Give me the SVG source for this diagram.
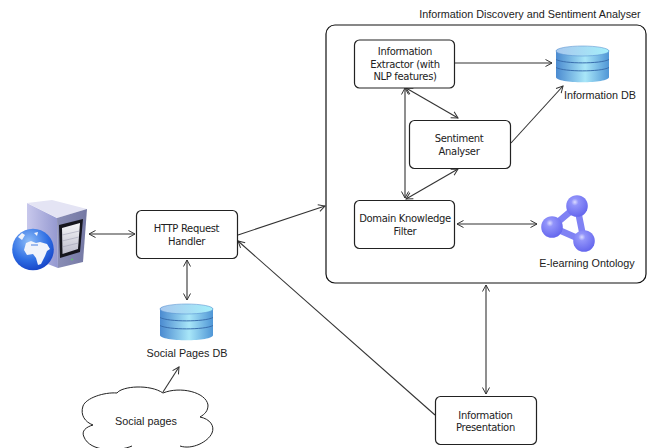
<svg xmlns="http://www.w3.org/2000/svg" width="649" height="448" viewBox="0 0 649 448">
<style>
.box{fill:#fff;stroke:#222;stroke-width:1.2}
.t{font-family:"DejaVu Sans",sans-serif;font-size:10px;letter-spacing:-.33px;fill:#222;text-anchor:middle}
.l{font-family:"Liberation Sans",Arial,sans-serif;font-size:10.8px;fill:#222;text-anchor:middle}
.c{fill:none;stroke:#333;stroke-width:1.1;marker-end:url(#a)}
.b{marker-start:url(#s)}
</style>
<defs>
<marker id="a" markerWidth="10" markerHeight="10" refX="7" refY="4" orient="auto" markerUnits="userSpaceOnUse"><path d="M0.5 0.5L7 4L0.5 7.500" fill="none" stroke="#333" stroke-width="1"/></marker>
<marker id="s" markerWidth="10" markerHeight="10" refX="1" refY="4" orient="auto" markerUnits="userSpaceOnUse"><path d="M7.500 0.500L1 4L7.500 7.500" fill="none" stroke="#333" stroke-width="1"/></marker>
<linearGradient id="dbh" x1="0" x2="1" y1="0" y2="0"><stop offset="0" stop-color="#4a8ad0"/><stop offset=".55" stop-color="#a8e6f8"/><stop offset="1" stop-color="#4f96d6"/></linearGradient>
<linearGradient id="top" x1="0" x2="1" y1="0" y2="0"><stop offset="0" stop-color="#a8c8ee"/><stop offset="1" stop-color="#a5effa"/></linearGradient>
<radialGradient id="ball" cx=".4" cy=".32" r=".75"><stop offset="0" stop-color="#dcdcff"/><stop offset=".22" stop-color="#9294fa"/><stop offset="1" stop-color="#5f61ec"/></radialGradient>
<radialGradient id="globe" cx=".4" cy=".3" r=".75"><stop offset="0" stop-color="#8dbcf8"/><stop offset=".6" stop-color="#2f6fe4"/><stop offset="1" stop-color="#1440c4"/></radialGradient>
<linearGradient id="srvl" x1="0" x2="1" y1="0" y2="0"><stop offset="0" stop-color="#c8c8ec"/><stop offset="1" stop-color="#9498d0"/></linearGradient>
<linearGradient id="srvf" x1="0" x2="1" y1="0" y2="0"><stop offset="0" stop-color="#8a8eb6"/><stop offset="1" stop-color="#7478a4"/></linearGradient>
<linearGradient id="scr" x1="0" x2="0" y1="0" y2="1"><stop offset="0" stop-color="#f6f6f8"/><stop offset="1" stop-color="#bcbccc"/></linearGradient>
<g id="dbicon">
<path d="M0 6C0 1 53 1 53 6V32C53 39 0 39 0 32Z" fill="url(#dbh)"/>
<path d="M0 14.500C8 19 45 19 53 14.500M0 22.500C8 27 45 27 53 22.500" fill="none" stroke="#3a6fae" stroke-width="1"/>
<ellipse cx="26.500" cy="6" rx="26.500" ry="5" fill="url(#top)" stroke="#5c96d2" stroke-width=".6"/>
</g>
</defs>
<rect width="649" height="448" fill="#fff"/>

<g id="connectors">
<path class="c b" d="M89 234H135"/>
<path class="c b" d="M187 260V300"/>
<path class="c" d="M163 392L179 367"/>
<path class="c" d="M238 235L325 206"/>
<path class="c" d="M435 415L238 241"/>
<path class="c b" d="M486 285V394"/>
<path class="c" d="M455 63H552"/>
<path class="c" d="M511 143L563 86"/>
<path class="c b" d="M406 88L458 118"/>
<path class="c b" d="M405 88V198"/>
<path class="c b" d="M406 199L458 169"/>
<path class="c b" d="M457 224H537"/>
</g>

<g id="discovery">
<rect x="326" y="25" width="320" height="258" rx="9" fill="none" stroke="#111" stroke-width="1.2"/>
<text class="l" x="530" y="17.500">Information Discovery and Sentiment Analyser</text>
</g>

<g id="extractor">
<rect class="box" x="354.500" y="40" width="100" height="48" rx="5"/>
<text class="t" x="405" y="55">Information</text>
<text class="t" x="405" y="67.500">Extractor (with</text>
<text class="t" x="405" y="80">NLP features)</text>
</g>
<g id="sentiment">
<rect class="box" x="409.500" y="120.500" width="101" height="48" rx="5"/>
<text class="t" x="459" y="142">Sentiment</text>
<text class="t" x="459" y="154.500">Analyser</text>
</g>
<g id="domain">
<rect class="box" x="354.500" y="200.500" width="100" height="48" rx="5"/>
<text class="t" x="405" y="222">Domain Knowledge</text>
<text class="t" x="405" y="234.500">Filter</text>
</g>
<g id="http">
<rect class="box" x="136.500" y="210.500" width="101" height="48" rx="5"/>
<text class="t" x="186.500" y="232">HTTP Request</text>
<text class="t" x="186.500" y="244.500">Handler</text>
</g>
<g id="presentation">
<rect class="box" x="435.500" y="396.500" width="101" height="48" rx="5"/>
<text class="t" x="485.500" y="418.500">Information</text>
<text class="t" x="485.500" y="431">Presentation</text>
</g>

<g id="infodb">
<use href="#dbicon" x="556" y="45"/>
<text class="l" x="600" y="99">Information DB</text>
</g>
<g id="socialdb">
<use href="#dbicon" x="160" y="303"/>
<text class="l" x="187" y="357">Social Pages DB</text>
</g>

<g id="ontology">
<path d="M552 227L577 206L584 241Z" fill="none" stroke="#8082f4" stroke-width="6.500" stroke-linejoin="round"/>
<circle cx="577" cy="206" r="10.800" fill="url(#ball)"/>
<circle cx="552" cy="227" r="10.800" fill="url(#ball)"/>
<circle cx="584" cy="241" r="10.800" fill="url(#ball)"/>
<text class="l" x="587" y="267">E-learning Ontology</text>
</g>

<g id="server">
<path d="M27 203L57 218L58 268L27 256Z" fill="url(#srvl)"/>
<path d="M27 203L52 200L87 209L57 218Z" fill="#e4e4f4"/>
<path d="M57 218L87 209L83 262L58 268Z" fill="url(#srvf)"/>
<path d="M59 225L83 219L80 252L60 258Z" fill="#16161e"/>
<path d="M62 228L80 223L78 249L62.500 254Z" fill="url(#scr)"/>
<path d="M62 235L79.500 231M62 241L79 237M62 247L78.500 243" stroke="#a0a0b4" stroke-width=".6" fill="none"/>
<circle cx="72" cy="259.500" r="1" fill="#5fc86a"/>
<circle cx="33" cy="249.500" r="20.800" fill="url(#globe)"/>
<path d="M26 243L31 241L36 243L40 242L47 244L50 249L47 251L45 256L41 264L38 265L36 258L33 254L27 255L24 250Z" fill="#f0f3fb"/>
<path d="M18 237L22 233L25 235L22 240Z" fill="#f0f3fb"/>
<path d="M34 233L38 232L37 236Z" fill="#f0f3fb"/>
<path d="M31 245L38 245" stroke="#4a80e0" stroke-width="1" fill="none"/>
</g>

<g id="cloud">
<path d="M132 446C118 452 90 452 84 437C81 431 86 427 93 425C85 422 80 415 83 406C86 398 104 392 117 393C122 386 150 384 163 393C180 386 206 392 208 405C208 411 205 414 200 417C210 419 215 426 212 433C208 442 192 450 180 446" fill="#fff" stroke="#222" stroke-width="1"/>
<text class="l" x="146" y="425">Social pages</text>
</g>
</svg>
